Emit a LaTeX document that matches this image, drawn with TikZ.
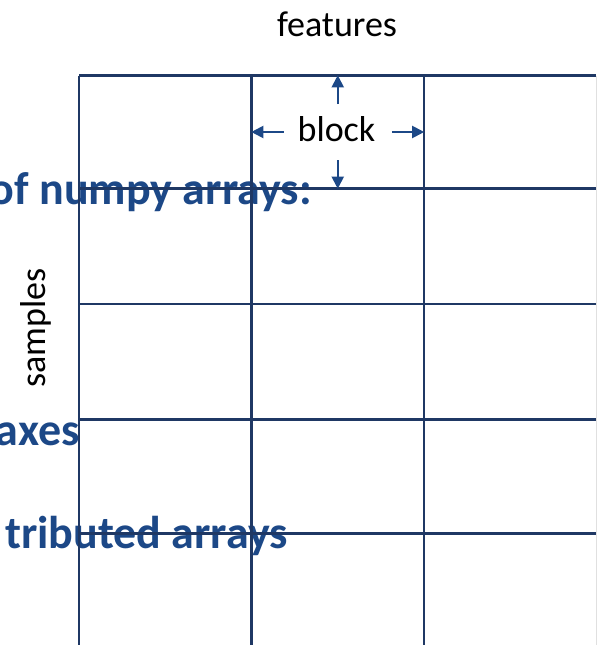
\documentclass[tikz,border=0pt]{standalone}
\usepackage{fontspec}
\setmainfont{Carlito}
\usetikzlibrary{arrows.meta}

\definecolor{gridblue}{RGB}{31,56,100}
\definecolor{textblue}{RGB}{28,72,135}

\tikzset{
  gridline/.style={draw=gridblue, line width=2.3pt},
  dimarrow/.style={draw=textblue, line width=2pt, -{Triangle[length=12pt,width=12pt]}},
  slidetext/.style={font=\bfseries\fontsize{46}{46}\selectfont, text=textblue, inner sep=0pt},
  labeltext/.style={font=\fontsize{36}{36}\selectfont, inner sep=0pt},
}

\begin{document}
\begin{tikzpicture}[x=1pt,y=-1pt]
\useasboundingbox (0,0) rectangle (602,645);

% bold text behind the grid, cut at the left edge
\begin{scope}
\clip (0,0) rectangle (602,645);
\node[slidetext, anchor=base east] (numpy) at (312,204) {of numpy arrays:};
\node[slidetext, anchor=base east] (axes) at (80,445) {axes};
\node[slidetext, anchor=base east] (distr) at (288,548) {tributed arrays};
\end{scope}

% axis labels
\node[labeltext, anchor=base] (feat) at (337,36) {features};
\node[labeltext, anchor=base, rotate=90] (samp) at (45,328) {samples};

% the grid of blocks
\foreach \x in {79,251.5,424}
  \draw[gridline] (\x,75.5) -- (\x,645);
\foreach \y in {75.5,188.5,304,419.5,533.5}
  \draw[gridline] (79,\y) -- (596,\y);
\draw[draw=black!12, line width=1pt] (596.5,75.5) -- (596.5,645);

% one block with its size arrows
\node[minimum width=172.5pt, minimum height=113pt, inner sep=0pt] (cell) at (337.75,132) {};
\node[labeltext, anchor=base] (blk) at (336.5,141.5) {block};
\draw[dimarrow, shorten <=28pt] (cell.center) -- (cell.north);
\draw[dimarrow, shorten <=28pt] (cell.center) -- (cell.south);
\draw[dimarrow, shorten <=54pt] (cell.center) -- (cell.west);
\draw[dimarrow, shorten <=54pt] (cell.center) -- (cell.east);
\end{tikzpicture}
\end{document}
